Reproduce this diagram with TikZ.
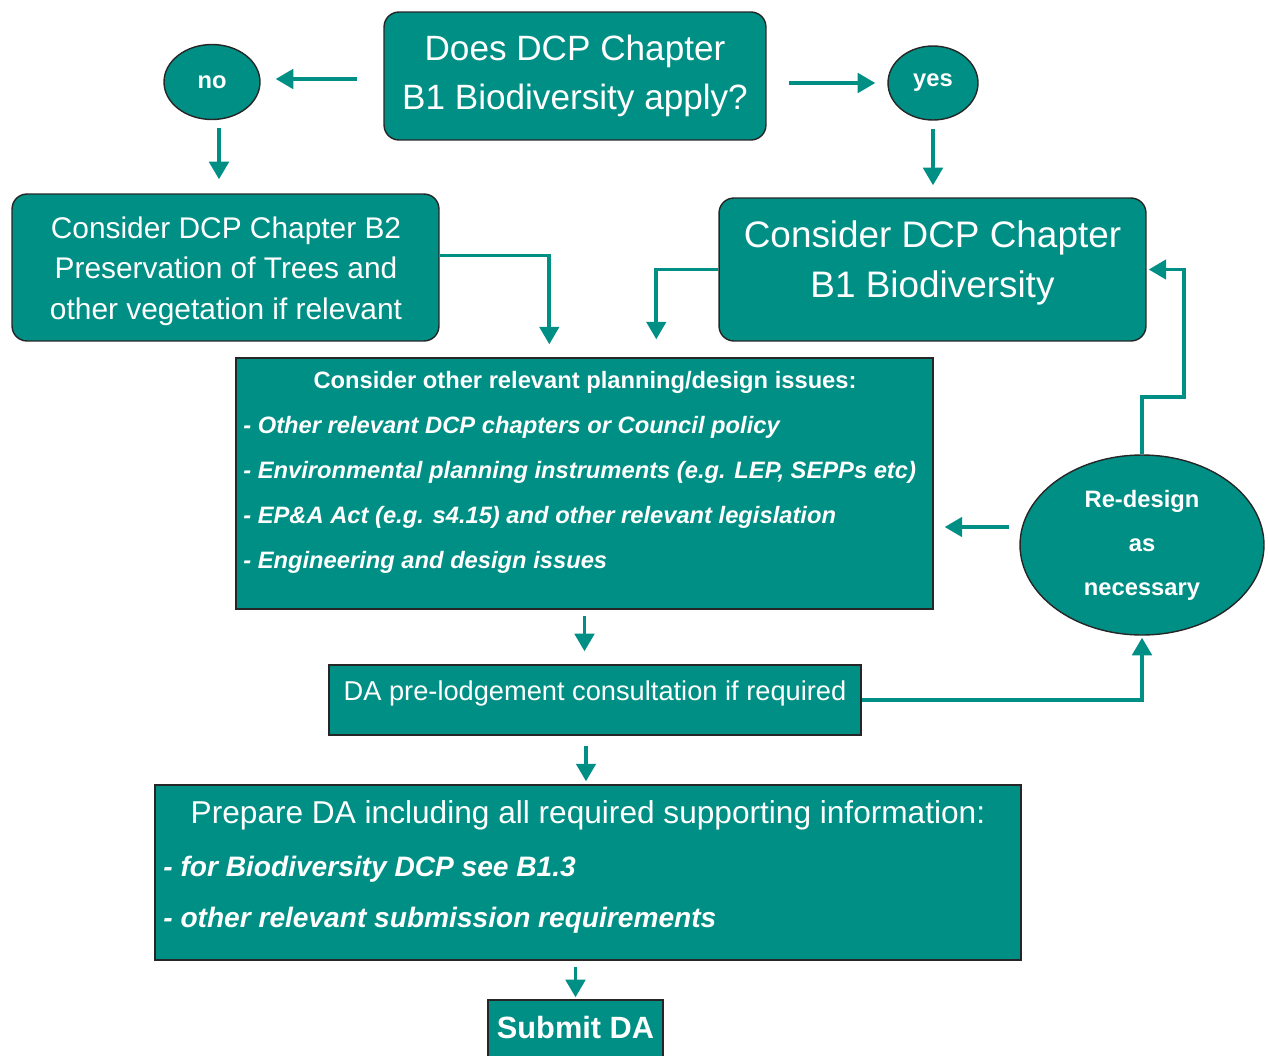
\documentclass[tikz,border=0pt]{standalone}
\usepackage{fontspec}
\setmainfont{Liberation Sans}
\usepackage{tikz}
\usetikzlibrary{shapes,arrows.meta,positioning,calc}
\definecolor{dcpgreen}{RGB}{0,143,133}

\begin{document}
\begin{tikzpicture}[x=0.02cm,y=-0.02cm,
  rbox/.style={draw=black!85,line width=0.8pt,fill=dcpgreen,text=white,rounded corners=0.3cm,align=center,inner sep=0pt},
  sbox/.style={draw=black!85,line width=0.8pt,fill=dcpgreen,text=white,inner sep=0pt},
  oval/.style={ellipse,draw=black!85,line width=0.8pt,fill=dcpgreen,text=white,inner sep=0pt,align=center,font=\fontsize{13.5}{25}\selectfont\bfseries},
  link/.style={draw=dcpgreen,line width=2.2pt,-{Triangle[length=10pt,width=11pt]}},
  item/.style={text=white,anchor=west,inner sep=0pt,text height=0.75em,text depth=0.25em}]
  \useasboundingbox (0,0) rectangle (1268,1055);

  % question and answers
  \node[rbox,minimum width=7.64cm,minimum height=2.56cm,font=\fontsize{20}{28}\selectfont] (q) at (575,76) {Does DCP Chapter\\B1 Biodiversity apply?};
  \node[oval,minimum width=1.92cm,minimum height=1.5cm] (no) at (212,82) {no};
  \node[oval,minimum width=1.8cm,minimum height=1.48cm] (yes) at (933,83) {yes};

  % chapters
  \node[rbox,minimum width=8.54cm,minimum height=2.94cm] (b2) at (225.5,267.5) {};
  \node[text=white,align=center,font=\fontsize{17}{23}\selectfont] (b2txt) at (226,271) {Consider DCP Chapter B2\\Preservation of Trees and\\other vegetation if relevant};
  \node[rbox,minimum width=8.54cm,minimum height=2.86cm] (b1) at (932.5,269.5) {};
  \node[text=white,align=center,font=\fontsize{21}{28}\selectfont] (b1txt) at (932.5,263) {Consider DCP Chapter\\B1 Biodiversity};

  % other issues
  \node[sbox,minimum width=13.94cm,minimum height=5.02cm] (issues) at (584.5,483.5) {};
  \node[text=white,font=\fontsize{13.5}{16}\selectfont\bfseries] (issuehead) at (585,382) {Consider other relevant planning/design issues:};
  \foreach \txt [count=\i] in {Other relevant DCP chapters or Council policy, {Environmental planning instruments (e.g. LEP, SEPPs etc)}, {EP\&A Act (e.g. s4.15) and other relevant legislation}, Engineering and design issues}
    \node[item,font=\fontsize{13.5}{16}\selectfont\bfseries\itshape] (issue\i) at (243,384+45*\i) {- \txt};

  \node[oval,minimum width=4.88cm,minimum height=3.6cm] (redesign) at (1142,545) {Re-design\\as\\necessary};

  % lodgement
  \node[sbox,minimum width=10.64cm,minimum height=1.4cm] (da) at (595,700) {};
  \node[text=white,font=\fontsize{15.5}{18}\selectfont] (datxt) at (595,693) {DA pre-lodgement consultation if required};
  \node[sbox,minimum width=17.32cm,minimum height=3.5cm] (prep) at (588,872.5) {};
  \node[text=white,font=\fontsize{18}{22}\selectfont] (prephead) at (588,815) {Prepare DA including all required supporting information:};
  \foreach \txt [count=\i] in {for Biodiversity DCP see B1.3, other relevant submission requirements}
    \node[item,font=\fontsize{16}{19}\selectfont\bfseries\itshape] (prepitem\i) at (163,821+51*\i) {- \txt};
  \node[sbox,minimum width=3.5cm,minimum height=1.2cm] (submit) at (575.5,1030) {};
  \node[text=white,font=\fontsize{17.5}{21}\selectfont\bfseries] (submittxt) at (575.5,1027) {Submit DA};

  % connectors
  \coordinate (loop) at (1184,397);
  \draw[link,shorten <=0.52cm,shorten >=0.3cm] ([yshift=-0.06cm]q.west) -- ([yshift=-0.06cm]q.west -| no.east);
  \draw[link,shorten <=0.44cm,shorten >=0.24cm] (q.east |- yes.west) -- (yes.west);
  \draw[link,shorten <=0.16cm,shorten >=0.28cm] ([xshift=0.14cm]no.south) -- ([xshift=0.14cm]no.south |- b2.north);
  \draw[link,shorten <=0.16cm,shorten >=0.24cm] (yes.south) -- (yes.south |- b1.north);
  \draw[link,shorten >=0.26cm] ([yshift=0.24cm]b2.east) -| ([xshift=6.28cm]issues.north west);
  \draw[link,shorten >=0.36cm] (b1.west) -| ([xshift=8.42cm]issues.north west);
  \draw[link,shorten <=0.2cm,shorten >=0.22cm] ([yshift=0.36cm]redesign.west) -- ([yshift=0.36cm]redesign.west -| issues.east);
  \draw[link,shorten >=0.04cm] (redesign.north) |- (loop) |- (b1.east);
  \draw[link,shorten <=0.12cm,shorten >=0.26cm] (issues.south) -- (issues.south |- da.north);
  \draw[link,shorten >=0.04cm] (da.east) -| (redesign.south);
  \draw[link,shorten <=0.2cm,shorten >=0.06cm] ([xshift=-0.18cm]da.south) -- ([xshift=-0.18cm]da.south |- prep.north);
  \draw[link,shorten <=0.12cm,shorten >=0.04cm] (prep.south -| submit.north) -- (submit.north);
\end{tikzpicture}
\end{document}
